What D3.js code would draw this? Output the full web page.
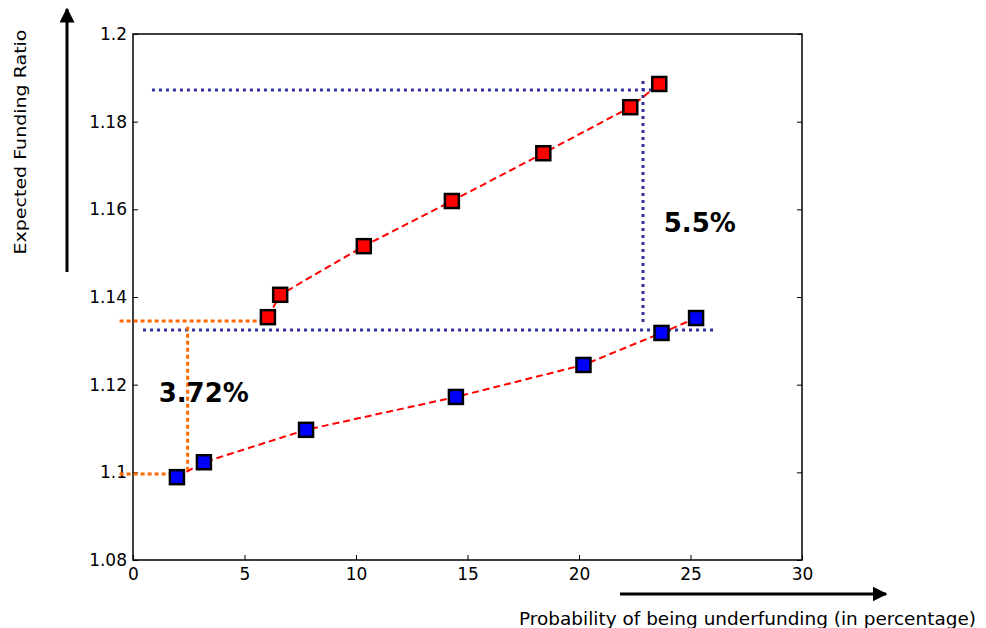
<!DOCTYPE html>
<html>
<head>
<meta charset="utf-8">
<script src="https://cdn.jsdelivr.net/npm/d3@7"></script>
<style>
  body { margin: 0; background: #fff; }
  svg { display: block; }
  .axis text { font-family: 'DejaVu Sans', Verdana, sans-serif; font-size: 17px; fill: #000; }
  .axis line { stroke: #000; }
</style>
</head>
<body>
<div id="chart"></div>
<script>
// values
const redX = [6.05, 6.6, 10.35, 14.3, 18.4, 22.3, 23.6]
const redY = [1.1354, 1.1405, 1.1516, 1.1619, 1.1728, 1.1833, 1.1886]
const blueX = [1.97, 3.18, 7.76, 14.48, 20.2, 23.7, 25.25]
const blueY = [1.0989, 1.1023, 1.1097, 1.1172, 1.1245, 1.1318, 1.1352]

const xTicks = [0, 5, 10, 15, 20, 25, 30]
const yTicks = [1.08, 1.1, 1.12, 1.14, 1.16, 1.18, 1.2]

// guide lines: [x1, y1, x2, y2]
const blueGuides = [
  [0.85, 1.1872, 24.0, 1.1872],
  [22.87, 1.1893, 22.87, 1.1334],
  [0.45, 1.1325, 26.1, 1.1325]
]
const orangeGuides = [
  [-0.6, 1.1345, 5.8, 1.1345],
  [2.45, 1.1332, 2.45, 1.1005],
  [-0.6, 1.0996, 2.2, 1.0996]
]

const margin = { top: 34, left: 133, right: 184, bottom: 68 }
const width = 986 - margin.left - margin.right
const height = 628 - margin.top - margin.bottom

const root = d3
  .select('#chart')
  .append('svg')
  .attr('width', 986)
  .attr('height', 628)

const svg = root
  .append('g')
  .attr('transform', 'translate(' + margin.left + ',' + margin.top + ')')

const xPositionScale = d3.scaleLinear().domain([0, 30]).range([0, width])
const yPositionScale = d3.scaleLinear().domain([1.08, 1.2]).range([height, 0])

// frame
svg
  .append('rect')
  .attr('width', width)
  .attr('height', height)
  .attr('fill', 'none')
  .attr('stroke', '#000')
  .attr('stroke-width', 1.5)

const xAxis = d3.axisBottom(xPositionScale).tickValues(xTicks).tickSizeInner(-5).tickSizeOuter(0).tickPadding(8)
svg
  .append('g')
  .attr('class', 'axis x-axis')
  .attr('transform', 'translate(0,' + height + ')')
  .call(xAxis)

const yAxis = d3.axisLeft(yPositionScale).tickValues(yTicks).tickSizeInner(-5).tickSizeOuter(0).tickPadding(6)
  .tickFormat(d3.format('~g'))
svg
  .append('g')
  .attr('class', 'axis y-axis')
  .call(yAxis)

const yAxisRight = d3.axisRight(yPositionScale).tickValues(yTicks).tickSizeInner(-5).tickSizeOuter(0).tickFormat('')
svg
  .append('g')
  .attr('class', 'axis y-axis-right')
  .attr('transform', 'translate(' + width + ',0)')
  .call(yAxisRight)

svg.selectAll('.domain').remove()

// guides
svg
  .selectAll('.blue-guide')
  .data(blueGuides)
  .enter()
  .append('line')
  .attr('class', 'blue-guide')
  .attr('x1', d => xPositionScale(d[0]))
  .attr('y1', d => yPositionScale(d[1]))
  .attr('x2', d => xPositionScale(d[2]))
  .attr('y2', d => yPositionScale(d[3]))
  .attr('stroke', '#333399')
  .attr('stroke-width', 3)
  .attr('stroke-dasharray', '3,4')

svg
  .selectAll('.orange-guide')
  .data(orangeGuides)
  .enter()
  .append('line')
  .attr('class', 'orange-guide')
  .attr('x1', d => xPositionScale(d[0]))
  .attr('y1', d => yPositionScale(d[1]))
  .attr('x2', d => xPositionScale(d[2]))
  .attr('y2', d => yPositionScale(d[3]))
  .attr('stroke', '#ff6a00')
  .attr('stroke-width', 3)
  .attr('stroke-dasharray', '4,3')

const line = d3
  .line()
  .x(d => xPositionScale(d[0]))
  .y(d => yPositionScale(d[1]))

const series = [
  { key: 'red', fill: '#ff0000', values: d3.zip(redX, redY) },
  { key: 'blue', fill: '#0000ff', values: d3.zip(blueX, blueY) }
]

series.forEach(s => {
  svg
    .append('path')
    .attr('d', line(s.values))
    .attr('fill', 'none')
    .attr('stroke', '#ff0000')
    .attr('stroke-width', 2)
    .attr('stroke-dasharray', '7,4')

  svg
    .selectAll('.mark-' + s.key)
    .data(s.values)
    .enter()
    .append('rect')
    .attr('class', 'mark-' + s.key)
    .attr('x', d => xPositionScale(d[0]) - 7)
    .attr('y', d => yPositionScale(d[1]) - 7)
    .attr('width', 14)
    .attr('height', 14)
    .attr('fill', s.fill)
    .attr('stroke', '#000')
    .attr('stroke-width', 2.5)
})

// annotations
svg
  .append('text')
  .attr('x', xPositionScale(1.15))
  .attr('y', yPositionScale(1.1161))
  .attr('font-family', 'DejaVu Sans, Verdana, sans-serif')
  .attr('font-weight', 'bold')
  .attr('font-size', 26)
  .text('3.72%')

svg
  .append('text')
  .attr('x', xPositionScale(23.8))
  .attr('y', yPositionScale(1.1549))
  .attr('font-family', 'DejaVu Sans, Verdana, sans-serif')
  .attr('font-weight', 'bold')
  .attr('font-size', 26)
  .text('5.5%')

// axis titles with arrows
const defs = root.append('defs')
defs
  .append('marker')
  .attr('id', 'arrow')
  .attr('viewBox', '0 0 10 10')
  .attr('refX', 9)
  .attr('refY', 5)
  .attr('markerWidth', 5)
  .attr('markerHeight', 5)
  .attr('markerUnits', 'strokeWidth')
  .attr('orient', 'auto')
  .append('path')
  .attr('d', 'M0,0 L10,5 L0,10 Z')
  .attr('fill', '#000')

root
  .append('line')
  .attr('x1', 67)
  .attr('y1', 272)
  .attr('x2', 67)
  .attr('y2', 9)
  .attr('stroke', '#000')
  .attr('stroke-width', 3)
  .attr('marker-end', 'url(#arrow)')

root
  .append('line')
  .attr('x1', 620)
  .attr('y1', 594)
  .attr('x2', 886)
  .attr('y2', 594)
  .attr('stroke', '#000')
  .attr('stroke-width', 3)
  .attr('marker-end', 'url(#arrow)')

root
  .append('text')
  .attr('transform', 'translate(26,142) rotate(-90)')
  .attr('text-anchor', 'middle')
  .attr('font-family', 'DejaVu Sans, Verdana, sans-serif')
  .attr('font-size', 16)
  .attr('textLength', 225)
  .attr('lengthAdjust', 'spacingAndGlyphs')
  .text('Expected Funding Ratio')

root
  .append('text')
  .attr('x', 519)
  .attr('y', 625)
  .attr('font-family', 'DejaVu Sans, Verdana, sans-serif')
  .attr('font-size', 17)
  .attr('textLength', 457)
  .attr('lengthAdjust', 'spacingAndGlyphs')
  .text('Probability of being underfunding (in percentage)')
</script>
</body>
</html>
